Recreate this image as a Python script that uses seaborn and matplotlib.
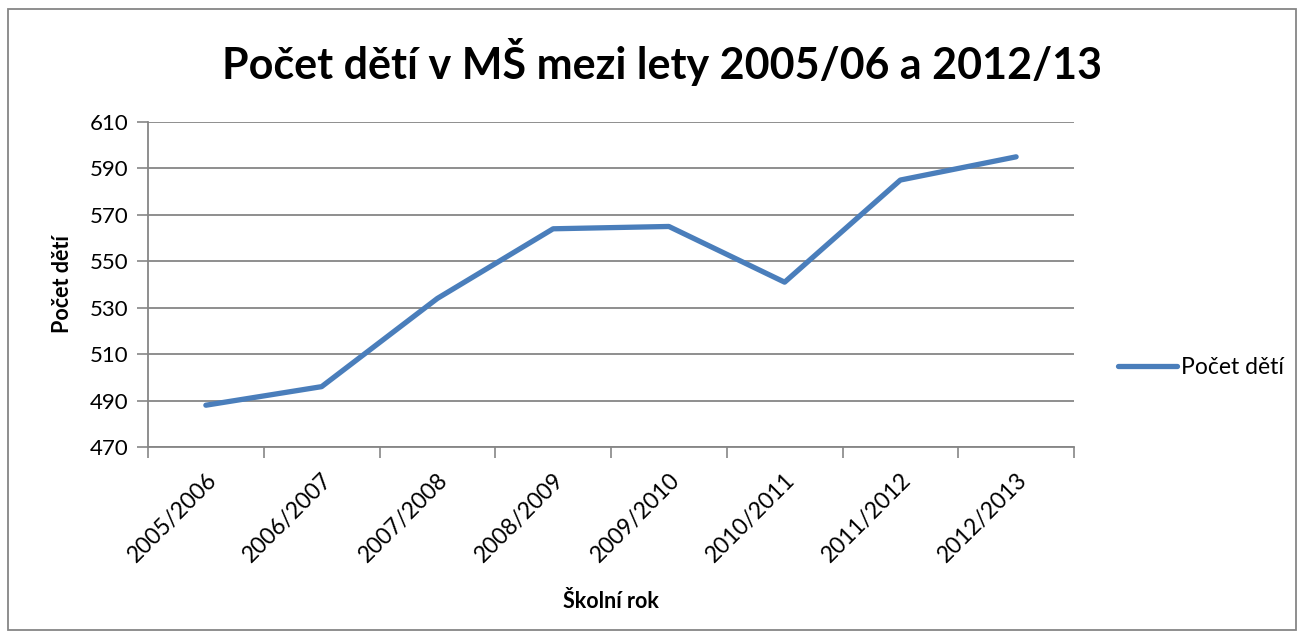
import matplotlib
matplotlib.use("Agg")
import matplotlib.pyplot as plt
import seaborn as sns
import pandas as pd
from matplotlib.patches import Rectangle

# Number of children in the kindergarten per school year
years = ["2005/2006", "2006/2007", "2007/2008", "2008/2009",
         "2009/2010", "2010/2011", "2011/2012", "2012/2013"]
children = [488, 496, 534, 564, 565, 541, 585, 595]
y_ticks = [470, 490, 510, 530, 550, 570, 590, 610]

sns.set_theme(style="white")
plt.rcParams["font.family"] = ["Lato", "DejaVu Sans"]
plt.rcParams["text.color"] = "black"
plt.rcParams["axes.labelcolor"] = "black"
plt.rcParams["xtick.color"] = "black"
plt.rcParams["ytick.color"] = "black"

df = pd.DataFrame({"Školní rok": years, "Počet dětí": children})

fig = plt.figure(figsize=(13.03, 6.38), dpi=100)
ax = fig.add_axes([148 / 1303, 1 - 447 / 638, (1074 - 148) / 1303, (447 - 122) / 638])

grid_c = "#868686"
line_c = "#4A7EBB"

sns.lineplot(data=df, x=range(len(years)), y="Počet dětí", ax=ax, sort=False,
             color=line_c, linewidth=3.8, label="Počet dětí", zorder=3)

ax.set_xlim(-0.5, len(years) - 0.5)
ax.set_ylim(y_ticks[0], y_ticks[-1])
ax.set_yticks(y_ticks)
ax.set_yticklabels([str(v) for v in y_ticks], fontsize=16)

# category boundaries carry the tick marks, labels sit at centres
ax.set_xticks([i - 0.5 for i in range(len(years) + 1)])
ax.set_xticklabels([])
ax.set_xticks(range(len(years)), minor=True)
ax.set_xticklabels(years, minor=True, rotation=45, ha="right", va="top",
                   rotation_mode="anchor", fontsize=16.5)
ax.tick_params(axis="x", which="minor", length=0, pad=16)
ax.tick_params(axis="x", which="major", length=8, width=1.2, color=grid_c, direction="out", bottom=True)
ax.tick_params(axis="y", length=8, width=1.2, color=grid_c, direction="out", left=True, pad=6)

ax.yaxis.grid(True, color=grid_c, linewidth=1.3)
ax.set_axisbelow(True)
for side in ["top", "right"]:
    ax.spines[side].set_visible(False)
for side in ["left", "bottom"]:
    ax.spines[side].set_color(grid_c)
    ax.spines[side].set_linewidth(1.3)

ax.set_xlabel("Školní rok", fontsize=15.5, fontweight="bold", labelpad=18)
ax.set_ylabel("Počet dětí", fontsize=15.5, fontweight="bold", labelpad=12)

fig.suptitle("Počet dětí v MŠ mezi lety 2005/06 a 2012/13", fontsize=31,
             fontweight="bold", x=(218 + 1105) / 2 / 1303, y=1 - 38 / 638, va="top")

leg = ax.legend(loc="center left", bbox_to_anchor=(1.025, 0.5 - (368 - 284.5) / 325),
                frameon=False, fontsize=16.5, handlelength=2.6, handletextpad=0.15)

fig.patches.append(Rectangle((8 / 1303, 1 - 630 / 638), 1288 / 1303, 621 / 638,
                             transform=fig.transFigure, fill=False,
                             edgecolor=grid_c, linewidth=1.3))

fig.savefig("out.png", dpi=100, facecolor="white")
